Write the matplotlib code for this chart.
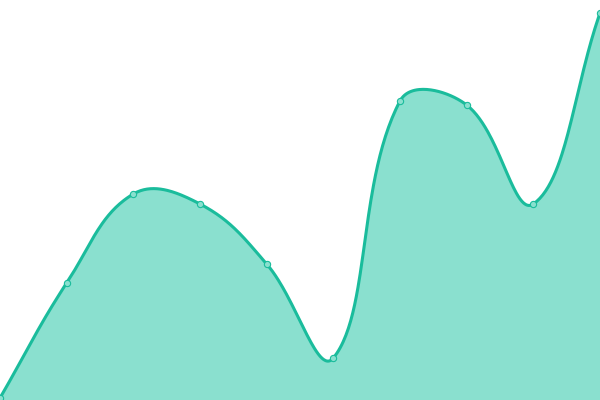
import numpy as np
import matplotlib
matplotlib.use("Agg")
import matplotlib.pyplot as plt

# values (chart height = 400 units)
labels = list(range(10))
values = [2, 117, 206, 196, 136, 42, 299, 295, 196, 387]

LINE = "#1abc9c"
FILL = "#8ae0cf"
W, H = 600, 400


def spline_controls(px, py, tension=0.4):
    """Bezier control points in the style of a tension spline."""
    n = len(px)
    ctrl = []
    for i in range(n):
        p0 = (px[max(i - 1, 0)], py[max(i - 1, 0)])
        p1 = (px[i], py[i])
        p2 = (px[min(i + 1, n - 1)], py[min(i + 1, n - 1)])
        d01 = np.hypot(p1[0] - p0[0], p1[1] - p0[1])
        d12 = np.hypot(p2[0] - p1[0], p2[1] - p1[1])
        tot = d01 + d12
        s01 = d01 / tot if tot else 0
        s12 = d12 / tot if tot else 0
        fa, fb = tension * s01, tension * s12
        prev = (p1[0] - fa * (p2[0] - p0[0]), p1[1] - fa * (p2[1] - p0[1]))
        nxt = (p1[0] + fb * (p2[0] - p0[0]), p1[1] + fb * (p2[1] - p0[1]))
        prev = (min(max(prev[0], 0), W), min(max(prev[1], 0), H))
        nxt = (min(max(nxt[0], 0), W), min(max(nxt[1], 0), H))
        ctrl.append((prev, nxt))
    return ctrl


def smooth(px, py, steps=60):
    ctrl = spline_controls(px, py)
    xs, ys = [px[0]], [py[0]]
    t = np.linspace(0, 1, steps)[1:]
    for i in range(len(px) - 1):
        a = (px[i], py[i])
        b = ctrl[i][1]
        c = ctrl[i + 1][0]
        d = (px[i + 1], py[i + 1])
        bx = (1 - t) ** 3 * a[0] + 3 * (1 - t) ** 2 * t * b[0] + 3 * (1 - t) * t ** 2 * c[0] + t ** 3 * d[0]
        by = (1 - t) ** 3 * a[1] + 3 * (1 - t) ** 2 * t * b[1] + 3 * (1 - t) * t ** 2 * c[1] + t ** 3 * d[1]
        xs.extend(bx)
        ys.extend(by)
    return np.array(xs), np.array(ys)


xpix = np.array(labels) * W / (len(labels) - 1)
ypix = np.array(values, dtype=float)
sx, sy = smooth(xpix, ypix)

fig = plt.figure(figsize=(6, 4), dpi=100)
ax = fig.add_axes([0, 0, 1, 1])
ax.fill_between(sx, sy, 0, color=FILL, lw=0)
ax.plot(sx, sy, color=LINE, lw=2.2, solid_capstyle="round", clip_on=False)
ax.plot(xpix, ypix, "o", ms=4.5, mfc=FILL, mec=LINE, mew=0.8, clip_on=False)
ax.set_xlim(0, W)
ax.set_ylim(0, H)
ax.axis("off")
fig.savefig("out.png", dpi=100)
